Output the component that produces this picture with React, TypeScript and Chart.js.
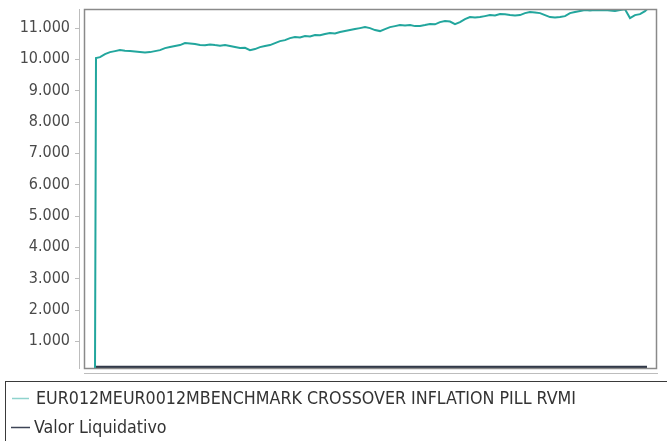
import React, { useEffect, useRef } from "react";
import { Chart, registerables } from "chart.js";

Chart.register(...registerables);

// x positions (weeks since start) and benchmark values
const benchWeeks = [
  0, 0.2, 1, 2, 3, 4, 5, 6, 7, 8, 9, 10, 11, 12, 13, 14, 15, 16, 17, 18, 19, 20,
  21, 22, 23, 24, 25, 26, 27, 28, 29, 30, 31, 32, 33, 34, 35, 36, 37, 38, 39, 40,
  41, 42, 43, 44, 45, 46, 47, 48, 49, 50, 51, 52, 53, 54, 55, 56, 57, 58, 59, 60,
  61, 62, 63, 64, 65, 66, 67, 68, 69, 70, 71, 72, 73, 74, 75, 76, 77, 78, 79, 80,
  81, 82, 83, 84, 85, 86, 87, 88, 89, 90, 91, 92, 93, 94, 95, 96, 97, 98, 99, 100,
  101, 102, 103, 104, 105, 106, 107, 108, 109, 110, 110.4,
];
const benchmark = [
  110, 10033, 10064, 10160, 10224, 10256, 10288, 10270, 10256, 10240, 10224, 10210,
  10224, 10256, 10288, 10352, 10384, 10416, 10448, 10511, 10500, 10480, 10448, 10440,
  10470, 10448, 10430, 10448, 10416, 10384, 10352, 10360, 10288, 10320, 10384, 10416,
  10448, 10511, 10575, 10607, 10671, 10703, 10690, 10735, 10720, 10767, 10760, 10799,
  10831, 10820, 10863, 10895, 10927, 10959, 10990, 11022, 10990, 10927, 10895, 10959,
  11022, 11054, 11086, 11075, 11086, 11054, 11060, 11086, 11118, 11110, 11182, 11214,
  11200, 11118, 11182, 11278, 11342, 11330, 11342, 11373, 11405, 11395, 11437, 11430,
  11405, 11395, 11405, 11469, 11501, 11490, 11469, 11405, 11342, 11330, 11342, 11373,
  11469, 11501, 11533, 11565, 11555, 11565, 11560, 11565, 11555, 11533, 11565, 11590,
  11310, 11405, 11437, 11533, 11590,
];

const navWeeks = [0, 10, 20, 30, 40, 50, 60, 70, 80, 90, 100, 110.4];
const valorLiquidativo = [170, 170, 171, 171, 172, 172, 172, 173, 173, 173, 173, 174];

const seriesNames = [
  "EUR012MEUR0012MBENCHMARK CROSSOVER INFLATION PILL RVMI",
  "Valor Liquidativo",
];

const yTicks = [1000, 2000, 3000, 4000, 5000, 6000, 7000, 8000, 9000, 10000, 11000];
const yMin = 110;
const yMax = 11600;

function fmt(v: number): string {
  const s = Math.round(v).toString();
  return s.replace(/\B(?=(\d{3})+(?!\d))/g, ".");
}

const framePlugin = {
  id: "framePlugin",
  afterDraw(chart: any) {
    const { ctx, chartArea } = chart;
    const { left, right, top, bottom } = chartArea;
    ctx.save();
    // plot frame
    ctx.strokeStyle = "#8a8a8a";
    ctx.lineWidth = 1.5;
    ctx.strokeRect(left + 0.5, top + 0.5, right - left - 1, bottom - top - 1);
    // offset axes
    ctx.strokeStyle = "#bdbdbd";
    ctx.lineWidth = 1;
    ctx.beginPath();
    ctx.moveTo(left - 4.5, top);
    ctx.lineTo(left - 4.5, bottom);
    ctx.moveTo(left, bottom + 4.5);
    ctx.lineTo(right + 1, bottom + 4.5);
    const yScale = chart.scales.y;
    yTicks.forEach((v) => {
      const py = Math.round(yScale.getPixelForValue(v)) + 0.5;
      ctx.moveTo(left - 9, py);
      ctx.lineTo(left - 4.5, py);
    });
    ctx.stroke();
    // legend box
    ctx.strokeStyle = "#3a3a3a";
    ctx.lineWidth = 1;
    ctx.strokeRect(5.5, 381.5, 662, 80);
    // legend items
    ctx.font = '17.7px "DejaVu Sans Condensed", "DejaVu Sans", sans-serif';
    ctx.textBaseline = "middle";
    const rows = [
      { y: 398, x0: 12, x1: 29, tx: 36, color: "#8fd3cd" },
      { y: 427, x0: 11, x1: 30, tx: 34, color: "#3d4456" },
    ];
    rows.forEach((r, i) => {
      ctx.strokeStyle = r.color;
      ctx.lineWidth = 1.5;
      ctx.beginPath();
      ctx.moveTo(r.x0, r.y + 0.5);
      ctx.lineTo(r.x1, r.y + 0.5);
      ctx.stroke();
      ctx.fillStyle = "#333333";
      ctx.fillText(seriesNames[i], r.tx, r.y + 1);
    });
    ctx.restore();
  },
};

export default function App() {
  const ref = useRef<HTMLCanvasElement | null>(null);
  useEffect(() => {
    if (!ref.current) return;
    const chart = new Chart(ref.current, {
      type: "line",
      data: {
        datasets: [
          {
            label: seriesNames[0],
            data: benchWeeks.map((w, i) => ({ x: w, y: benchmark[i] })),
            borderColor: "#22a69d",
            borderWidth: 2,
            pointRadius: 0,
            tension: 0,
          },
          {
            label: seriesNames[1],
            data: navWeeks.map((w, i) => ({ x: w, y: valorLiquidativo[i] })),
            borderColor: "#303848",
            borderWidth: 2.5,
            pointRadius: 0,
            tension: 0,
          },
        ],
      },
      options: {
        responsive: false,
        animation: false,
        devicePixelRatio: 1,
        layout: { padding: { top: 9, right: 10, bottom: 72, left: 0 } },
        plugins: { legend: { display: false }, tooltip: { enabled: false } },
        scales: {
          x: {
            type: "linear",
            display: false,
            min: -2.2,
            max: 112.4,
          },
          y: {
            type: "linear",
            min: yMin,
            max: yMax,
            afterFit: (s: any) => {
              s.width = 84;
              s.paddingTop = 0;
              s.paddingBottom = 0;
            },
            afterBuildTicks: (s: any) => {
              s.ticks = yTicks.map((v) => ({ value: v }));
            },
            grid: { drawOnChartArea: false, drawTicks: false, color: "rgba(0,0,0,0)" },
            border: { display: false },
            ticks: {
              padding: 14,
              color: "#4a4a4a",
              autoSkip: false,
              font: { family: '"DejaVu Sans Condensed", "DejaVu Sans", sans-serif', size: 16 },
              callback: (v: any) => fmt(Number(v)),
            },
          },
        },
      },
      plugins: [framePlugin],
    });
    return () => chart.destroy();
  }, []);
  return (
    <div style={{ position: "absolute", left: 0, top: 0, width: 667, height: 441, background: "#fff" }}>
      <canvas ref={ref} width={667} height={441} />
    </div>
  );
}
